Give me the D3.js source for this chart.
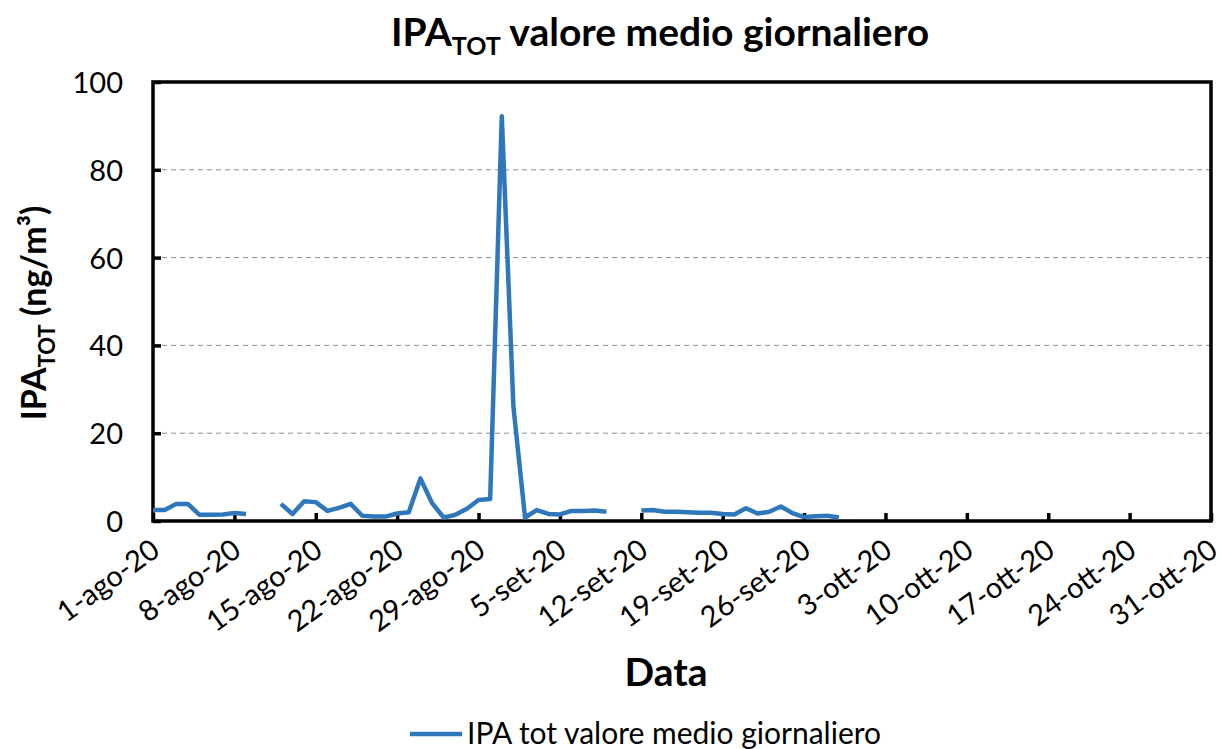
<!DOCTYPE html>
<html>
<head>
<meta charset="utf-8">
<script src="https://cdn.jsdelivr.net/npm/d3@7/dist/d3.min.js"></script>
<style>
  body { margin: 0; background: #fff; }
  text { font-family: Lato, "Open Sans", sans-serif; fill: #000; }
</style>
</head>
<body>
<script>
// daily dates (Aug 1 - Sep 29, 2020)
var days = [
  "2020-08-01","2020-08-02","2020-08-03","2020-08-04","2020-08-05","2020-08-06","2020-08-07","2020-08-08","2020-08-09","2020-08-10",
  "2020-08-11","2020-08-12","2020-08-13","2020-08-14","2020-08-15","2020-08-16","2020-08-17","2020-08-18","2020-08-19","2020-08-20",
  "2020-08-21","2020-08-22","2020-08-23","2020-08-24","2020-08-25","2020-08-26","2020-08-27","2020-08-28","2020-08-29","2020-08-30",
  "2020-08-31","2020-09-01","2020-09-02","2020-09-03","2020-09-04","2020-09-05","2020-09-06","2020-09-07","2020-09-08","2020-09-09",
  "2020-09-10","2020-09-11","2020-09-12","2020-09-13","2020-09-14","2020-09-15","2020-09-16","2020-09-17","2020-09-18","2020-09-19",
  "2020-09-20","2020-09-21","2020-09-22","2020-09-23","2020-09-24","2020-09-25","2020-09-26","2020-09-27","2020-09-28","2020-09-29"
];
// IPA tot daily mean (ng/m3), null = no data
var ipaTot = [
  2.5, 2.5, 3.9, 3.9, 1.4, 1.4, 1.5, 1.8, 1.6, null,
  null, 3.9, 1.6, 4.5, 4.3, 2.3, 3.0, 3.9, 1.2, 1.0,
  1.0, 1.7, 2.0, 9.7, 4.1, 0.8, 1.4, 2.8, 4.8, 5.0,
  92.2, 26.0, 0.8, 2.5, 1.6, 1.5, 2.3, 2.3, 2.4, 2.1,
  null, null, 2.4, 2.5, 2.1, 2.1, 2.0, 1.9, 1.9, 1.6,
  1.5, 2.9, 1.7, 2.1, 3.3, 1.8, 0.9, 1.1, 1.2, 0.8
];
var tickDays = ["2020-08-01","2020-08-08","2020-08-15","2020-08-22","2020-08-29","2020-09-05","2020-09-12",
  "2020-09-19","2020-09-26","2020-10-03","2020-10-10","2020-10-17","2020-10-24","2020-10-31"];
var tickLabels = ["1-ago-20","8-ago-20","15-ago-20","22-ago-20","29-ago-20","5-set-20","12-set-20",
  "19-set-20","26-set-20","3-ott-20","10-ott-20","17-ott-20","24-ott-20","31-ott-20"];
var yTicks = [0, 20, 40, 60, 80, 100];

var parse = d3.timeParse("%Y-%m-%d");
var data = days.map(function(d, i) { return {date: parse(d), v: ipaTot[i]}; });

var pLeft = 153, pRight = 1211, pTop = 82, pBottom = 521;
var blue = "#2f77bb";

var svg = d3.select("body").append("svg")
    .attr("width", 1222)
    .attr("height", 749);

var x = d3.scaleTime().domain([parse("2020-08-01"), parse("2020-10-31")]).range([pLeft, pRight]);
var y = d3.scaleLinear().domain([0, 100]).range([pBottom, pTop]);

// gridlines
svg.append("g").selectAll("line")
    .data(yTicks.filter(function(d) { return d > 0 && d < 100; }))
  .enter().append("line")
    .attr("x1", pLeft).attr("x2", pRight)
    .attr("y1", function(d) { return y(d); })
    .attr("y2", function(d) { return y(d); })
    .attr("stroke", "#8c8c8c")
    .attr("stroke-width", 1)
    .attr("stroke-dasharray", "5,4");

// y axis
var yAxis = svg.append("g")
    .attr("transform", "translate(" + pLeft + ",0)")
    .call(d3.axisLeft(y).tickValues(yTicks).tickSizeInner(-8).tickSizeOuter(0).tickPadding(30));
// x axis
var xAxis = svg.append("g")
    .attr("transform", "translate(0," + pBottom + ")")
    .call(d3.axisBottom(x).tickValues(tickDays.map(parse))
      .tickFormat(function(d, i) { return tickLabels[i]; })
      .tickSizeInner(-8).tickSizeOuter(0));

[yAxis, xAxis].forEach(function(g) {
  g.select(".domain").remove();
  g.selectAll(".tick line").attr("stroke", "#000").attr("stroke-width", 3.5);
  g.selectAll("text").style("font-family", "Lato, 'Open Sans', sans-serif").attr("font-size", 29).attr("fill", "#000");
});
xAxis.selectAll("text")
    .attr("y", 0).attr("dy", 0)
    .attr("text-anchor", "end")
    .attr("transform", "translate(8,33) rotate(-36)");
yAxis.selectAll("text").attr("dy", "0.36em");

// plot border
svg.append("rect")
    .attr("x", pLeft).attr("y", pTop)
    .attr("width", pRight - pLeft).attr("height", pBottom - pTop)
    .attr("fill", "none")
    .attr("stroke", "#000")
    .attr("stroke-width", 3.5);

// series
var line = d3.line()
    .defined(function(d) { return d.v != null; })
    .x(function(d) { return x(d.date); })
    .y(function(d) { return y(d.v); });

svg.append("path")
    .datum(data)
    .attr("fill", "none")
    .attr("stroke", blue)
    .attr("stroke-width", 4.5)
    .attr("stroke-linejoin", "round")
    .attr("d", line);

// title
var title = svg.append("text")
    .attr("x", 660).attr("y", 46)
    .attr("text-anchor", "middle")
    .attr("font-size", 39).attr("font-weight", "bold");
title.append("tspan").text("IPA");
title.append("tspan").attr("font-size", 25).attr("dy", 9).text("TOT");
title.append("tspan").attr("dy", -9).text(" valore medio giornaliero");

// axis titles
svg.append("text")
    .attr("x", 666).attr("y", 686)
    .attr("text-anchor", "middle")
    .attr("font-size", 39).attr("font-weight", "bold")
    .text("Data");

var yt = svg.append("text")
    .attr("transform", "translate(46,313) rotate(-90)")
    .attr("text-anchor", "middle")
    .attr("font-size", 34).attr("font-weight", "bold");
yt.append("tspan").text("IPA");
yt.append("tspan").attr("font-size", 22).attr("dy", 9).text("TOT");
yt.append("tspan").attr("dy", -9).text(" (ng/m\u00B3)");

// legend
svg.append("line")
    .attr("x1", 410).attr("x2", 462)
    .attr("y1", 734).attr("y2", 734)
    .attr("stroke", blue)
    .attr("stroke-width", 4.5);
svg.append("text")
    .attr("x", 467).attr("y", 744)
    .attr("font-size", 30)
    .text("IPA tot valore medio giornaliero");
</script>
</body>
</html>
